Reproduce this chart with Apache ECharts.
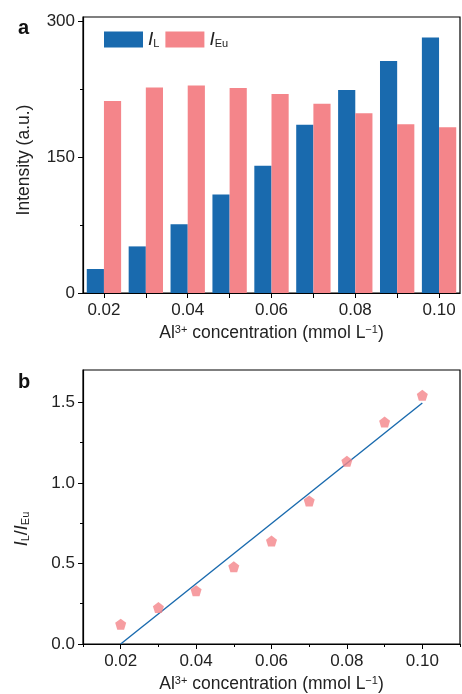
<!DOCTYPE html>
<html><head><meta charset="utf-8">
<script src="https://cdn.jsdelivr.net/npm/echarts@6/dist/echarts.min.js"></script>
<style>html,body{margin:0;padding:0;background:#fff}#c{width:462px;height:694px}</style>
</head><body><div id="c"></div>
<script>
// Panel a data
const categories = ['0.02','0.03','0.04','0.05','0.06','0.07','0.08','0.09','0.10'];
const IL = [26.5, 51.5, 76, 108.8, 140.5, 186, 224.3, 256.3, 282.4];
const IEu = [212.2, 227.2, 229.4, 226.5, 219.9, 209.2, 198.5, 186.4, 183.1];
const yTicksA = [0, 150, 300];
const yMinorA = [75, 225];
// Panel b data
const conc = [0.02, 0.03, 0.04, 0.05, 0.06, 0.07, 0.08, 0.09, 0.10];
const ratio = [0.123, 0.226, 0.331, 0.479, 0.639, 0.888, 1.134, 1.377, 1.543];
const fitX = [0.02, 0.10];
const fitY = [0.0, 1.495];
const yTicksB = [0, 0.5, 1.0, 1.5];
const yMinorB = [0.25, 0.75, 1.25];
const xTicksB = [0.02, 0.04, 0.06, 0.08, 0.10];
const xMinorB = [0.01, 0.03, 0.05, 0.07, 0.09, 0.11];

const FONT = "'Liberation Sans', Arial, sans-serif";
const BLUE = '#196AAE';
const PINK = '#F4858A';
const lab = {color:'#222', fontSize:17, fontFamily:FONT};
const nameRich = {
  t:{fontSize:17.5, fontFamily:FONT, color:'#222'},
  sup:{fontSize:11, fontFamily:FONT, color:'#222', verticalAlign:'top', lineHeight:11}
};
const xName = '{t|Al}{sup|3+}{t| concentration (mmol L}{sup|−1}{t|)}';
const pentagon = 'path://M0,-10 L9.5,-3.1 L5.9,8.1 L-5.9,8.1 L-9.5,-3.1 Z';

const chart = echarts.init(document.getElementById('c'), null, {renderer:'canvas'});
const axLine = {show:true, lineStyle:{color:'#000', width:1.2}};
const option = {
  animation:false,
  backgroundColor:'#fff',
  grid:[
    {left:83, top:17, width:377, height:276, show:true, borderColor:'#000', borderWidth:1.2, backgroundColor:'transparent'},
    {left:83, top:370, width:377, height:276, show:true, borderColor:'#000', borderWidth:1.2, backgroundColor:'transparent'}
  ],
  legend:{
    left:99, top:25, itemWidth:39, itemHeight:16, itemGap:6,
    icon:'rect',
    data:['IL','IEu'],
    formatter: n => n==='IL' ? '{i|I}{s|L}' : '{i|I}{s|Eu}',
    textStyle:{rich:{
      i:{fontSize:19, fontStyle:'italic', fontFamily:FONT, color:'#222'},
      s:{fontSize:11, fontFamily:FONT, color:'#222', verticalAlign:'bottom', padding:[8,0,0,0]}
    }}
  },
  xAxis:[
    {type:'category', gridIndex:0, data:categories, boundaryGap:true,
     axisLine:axLine,
     axisTick:{show:true, alignWithLabel:true, interval:0, length:5, lineStyle:{color:'#000'}},
     axisLabel:Object.assign({interval:1, margin:9}, lab),
     name:xName, nameLocation:'middle', nameGap:31, nameTextStyle:{rich:nameRich}},
    {type:'value', gridIndex:1, min:0.01, max:0.11,
     axisLine:axLine, splitLine:{show:false},
     axisTick:{show:true, length:5, customValues:xTicksB, lineStyle:{color:'#000'}},
     axisLabel:Object.assign({customValues:xTicksB, margin:9, formatter:v=>v.toFixed(2)}, lab),
     name:xName, nameLocation:'middle', nameGap:31, nameTextStyle:{rich:nameRich}},
    {type:'value', gridIndex:1, min:0.01, max:0.11, position:'bottom',
     axisLine:{show:false}, splitLine:{show:false}, axisLabel:{show:false},
     axisTick:{show:true, length:3, customValues:xMinorB, lineStyle:{color:'#000'}}}
  ],
  yAxis:[
    {type:'value', gridIndex:0, min:0, max:305,
     axisLine:axLine, splitLine:{show:false},
     axisTick:{show:true, length:5, customValues:yTicksA, lineStyle:{color:'#000'}},
     axisLabel:Object.assign({customValues:yTicksA, margin:8}, lab)},
    {type:'value', gridIndex:1, min:0, max:1.7,
     axisLine:axLine, splitLine:{show:false},
     axisTick:{show:true, length:5, customValues:yTicksB, lineStyle:{color:'#000'}},
     axisLabel:Object.assign({customValues:yTicksB, margin:8, formatter:v=>v.toFixed(1)}, lab)},
    {type:'value', gridIndex:0, min:0, max:305, position:'left',
     axisLine:{show:false}, splitLine:{show:false}, axisLabel:{show:false},
     axisTick:{show:true, length:3, customValues:yMinorA, lineStyle:{color:'#000'}}},
    {type:'value', gridIndex:1, min:0, max:1.7, position:'left',
     axisLine:{show:false}, splitLine:{show:false}, axisLabel:{show:false},
     axisTick:{show:true, length:3, customValues:yMinorB, lineStyle:{color:'#000'}}}
  ],
  series:[
    {name:'IL', type:'bar', xAxisIndex:0, yAxisIndex:0, data:IL, barGap:'0%', barCategoryGap:'18%',
     itemStyle:{color:BLUE}},
    {name:'IEu', type:'bar', xAxisIndex:0, yAxisIndex:0, data:IEu, barGap:'0%', barCategoryGap:'18%',
     itemStyle:{color:PINK}},
    {name:'fit', type:'line', xAxisIndex:1, yAxisIndex:1, data:fitX.map((x,i)=>[x,fitY[i]]),
     showSymbol:false, symbol:'none', lineStyle:{color:BLUE, width:1.4}, z:3},
    {name:'ratio', type:'scatter', xAxisIndex:1, yAxisIndex:1, data:conc.map((x,i)=>[x,ratio[i]]),
     symbol:pentagon, symbolSize:11, itemStyle:{color:PINK}, z:4}
  ],
  graphic:[
    {type:'text', left:18, top:18, style:{text:'a', font:"bold 20px "+FONT, fill:'#111'}},
    {type:'text', left:18, top:372, style:{text:'b', font:"bold 20px "+FONT, fill:'#111'}},
    {type:'text', x:33, y:160, rotation:Math.PI/2,
     style:{text:'Intensity (a.u.)', align:'center', verticalAlign:'bottom',
       font:"17.5px "+FONT, fill:'#222'}},
    {type:'text', x:31, y:529, rotation:Math.PI/2,
     style:{text:'{i|I}{s|L}{n|/}{i|I}{s|Eu}', align:'center', verticalAlign:'bottom',
       rich:{
         i:{fontSize:18, fontStyle:'italic', fontFamily:FONT, fill:'#222', color:'#222'},
         n:{fontSize:18, fontFamily:FONT, fill:'#222', color:'#222'},
         s:{fontSize:11, fontFamily:FONT, fill:'#222', color:'#222', verticalAlign:'bottom', padding:[7,0,0,0]}
       }}}
  ]
};
chart.setOption(option);
</script></body></html>
